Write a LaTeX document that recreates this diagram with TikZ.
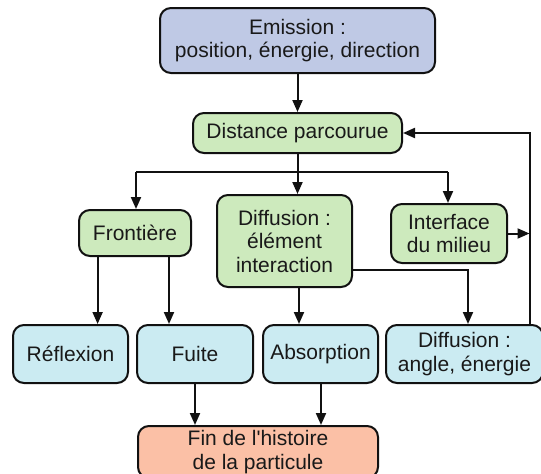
\documentclass[tikz,border=0pt]{standalone}
\usepackage{fontspec}
\setmainfont{Liberation Sans}
\newfontfamily\plainfont{Liberation Sans}
\usetikzlibrary{arrows.meta}
\definecolor{cemit}{HTML}{BFC9E5}
\definecolor{cgreen}{HTML}{CDEABD}
\definecolor{cblue}{HTML}{CBEBF2}
\definecolor{csalmon}{HTML}{FBC0A6}
\definecolor{cline}{HTML}{111111}
\begin{document}
\begin{tikzpicture}[x=1pt,y=-1pt,
  box/.style={draw=cline, line width=2pt, rounded corners=11pt, align=center,
    inner sep=0pt, font=\fontsize{21}{23.5}\selectfont, text=black!90},
  emitbox/.style={box, fill=cemit},
  greenbox/.style={box, fill=cgreen},
  bluebox/.style={box, fill=cblue},
  endbox/.style={box, fill=csalmon},
  conn/.style={draw=cline, line width=2pt},
  arr/.style={conn, -{Triangle[length=12pt,width=10pt]}}]
\useasboundingbox (0,0) rectangle (541,474);
\node[emitbox, minimum width=275pt, minimum height=65pt] (emit) at (297.5,40.5) {Emission :\\position, énergie, direction};
\node[greenbox, minimum width=209pt, minimum height=40pt] (dist) at (297.5,133) {Distance parcourue};
\node[greenbox, minimum width=112pt, minimum height=46pt] (front) at (135,233) {Frontière};
\node[greenbox, minimum width=135pt, minimum height=92pt] (diffe) at (284.5,241) {Diffusion :\\élément\\interaction};
\node[greenbox, minimum width=116pt, minimum height=59pt] (inter) at (449,233.5) {Interface\\du milieu};
\node[bluebox, minimum width=115pt, minimum height=58pt] (refl) at (70.5,354) {Réflexion};
\node[bluebox, minimum width=116pt, minimum height=58pt] (fuite) at (195,354) {Fuite};
\node[bluebox, minimum width=115pt, minimum height=58pt] (absor) at (320.5,354) {Absorption};
\node[bluebox, minimum width=157pt, minimum height=58pt] (diffa) at (464.5,354) {Diffusion :\\angle, énergie};
\node[endbox, minimum width=240pt, minimum height=52pt] (fin) at (258,452) {Fin de l{\plainfont '}histoire\\de la particule};
% coordinates
\coordinate (hL) at (136,172);
\coordinate (hR) at (448,172);
\coordinate (xRefl) at (97.6,0);
\coordinate (xFuite) at (169,0);
\coordinate (xAbs) at (299,0);
\coordinate (cD) at (468,270);
\coordinate (xR) at (529.5,0);
\coordinate (xF1) at (195,0);
\coordinate (xF2) at (321,0);
% connectors
\draw[arr] (emit.south -| dist.north) -- (dist.north);
\draw[conn] (dist.south) -- (dist.south |- hL);
\draw[conn] (hL) -- (hR);
\draw[arr] (hL) -- (front.north -| hL);
\draw[arr] (dist.south |- hL) -- (diffe.north -| dist.south);
\draw[arr] (hR) -- (inter.north -| hR);
\draw[arr] (front.south -| xRefl) -- (refl.north -| xRefl);
\draw[arr] (front.south -| xFuite) -- (fuite.north -| xFuite);
\draw[arr] (diffe.south -| xAbs) -- (absor.north -| xAbs);
\draw[arr] (diffe.east |- cD) -- (cD) -- (diffa.north -| cD);
\draw[arr] (inter.east) -- (inter.east -| xR);
\draw[arr] (diffa.north -| xR) -- (dist.east -| xR) -- (dist.east);
\draw[arr] (fuite.south -| xF1) -- (fin.north -| xF1);
\draw[arr] (absor.south -| xF2) -- (fin.north -| xF2);
\end{tikzpicture}
\end{document}
